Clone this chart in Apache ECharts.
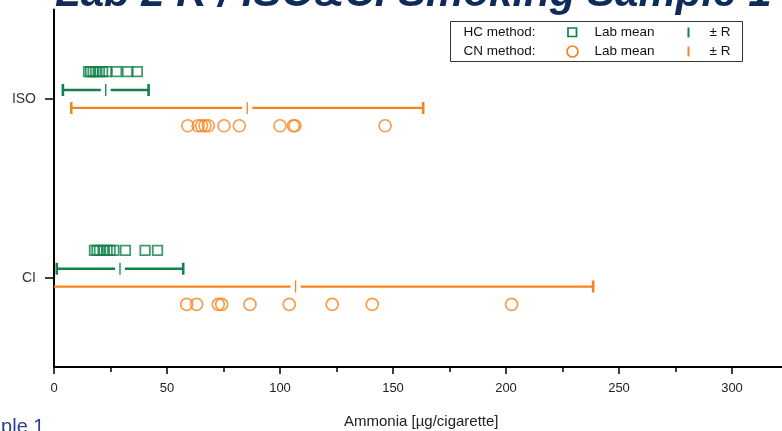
<!DOCTYPE html>
<html>
<head>
<meta charset="utf-8">
<script src="https://cdn.jsdelivr.net/npm/echarts@6/dist/echarts.min.js"></script>
<style>
html,body{margin:0;padding:0;background:#fff;}
#chart{width:782px;height:431px;}
</style>
</head>
<body>
<div id="chart"></div>
<script>
// ---- data ----
var categories = ['CI', 'ISO'];
var xTicks = [0, 50, 100, 150, 200, 250, 300];
// individual lab means, HC method (squares)
var hcISO = [15.3, 16.2, 17.3, 18.4, 20.1, 21.5, 23.2, 27.7, 32.5, 36.9];
var hcCI = [17.9, 19.0, 20.1, 21.7, 23.5, 24.8, 26.5, 31.6, 40.3, 45.8];
// individual lab means, CN method (circles)
var cnISO = [59.2, 63.8, 65.3, 66.8, 68.3, 75.2, 82.0, 100.0, 105.9, 106.6, 146.5];
var cnCI = [58.7, 63.1, 72.7, 74.2, 86.7, 104.1, 123.1, 140.8, 202.5];
// overall mean and R per category [CI, ISO]
var hcMean = [29.2, 22.9];
var hcR = [28.4, 19.4];
var cnMean = [106.9, 85.5];
var cnR = [132.1, 78.3];

var GREEN = '#12804a';
var ORANGE = '#f7841f';
var catPos = [1, 2];
var offSq = 0.153, offHcBar = 0.05, offCnBar = -0.05, offCir = -0.15;

function pts(vals, catIdx, off) {
  return vals.map(function (v) { return [v, catPos[catIdx] + off]; });
}
function bars(means, rs, off) {
  return means.map(function (m, i) { return [m - rs[i], m + rs[i], m, catPos[i] + off]; });
}

function renderErr(color) {
  return function (params, api) {
    var lo = api.coord([api.value(0), api.value(3)]);
    var hi = api.coord([api.value(1), api.value(3)]);
    var mn = api.coord([api.value(2), api.value(3)]);
    var y = lo[1];
    var gap = 5;
    var lw = 2.4;
    var cs = params.coordSys;
    var children = [
      {type: 'line', shape: {x1: lo[0], y1: y, x2: mn[0] - gap, y2: y}, style: {stroke: color, lineWidth: lw}},
      {type: 'line', shape: {x1: mn[0] + gap, y1: y, x2: hi[0], y2: y}, style: {stroke: color, lineWidth: lw}},
      {type: 'line', shape: {x1: lo[0] + 1, y1: y - 6, x2: lo[0] + 1, y2: y + 6}, style: {stroke: color, lineWidth: 2.6}},
      {type: 'line', shape: {x1: hi[0] - 1, y1: y - 6, x2: hi[0] - 1, y2: y + 6}, style: {stroke: color, lineWidth: 2.6}},
      {type: 'line', shape: {x1: mn[0], y1: y - 6, x2: mn[0], y2: y + 6}, style: {stroke: color, lineWidth: 1.3}}
    ];
    return {
      type: 'group',
      children: children,
      clipPath: {type: 'rect', shape: {x: cs.x, y: cs.y, width: cs.width, height: cs.height}}
    };
  };
}

var chart = echarts.init(document.getElementById('chart'));
var FONT = 'Liberation Sans';
chart.setOption({
  animation: false,
  backgroundColor: '#fff',
  textStyle: {fontFamily: FONT},
  grid: {left: 54, right: -6.5, top: 9.6, bottom: 64, containLabel: false, outerBoundsMode: 'none'},
  xAxis: {
    type: 'value', min: 0, max: 325, interval: 50,
    axisLine: {show: true, lineStyle: {color: '#000', width: 2}},
    axisTick: {show: true, length: 7, lineStyle: {color: '#000', width: 1.5}},
    minorTick: {show: true, splitNumber: 2, length: 5, lineStyle: {color: '#000', width: 1.5}},
    splitLine: {show: false},
    axisLabel: {
      color: '#222', fontSize: 13, margin: 15, fontFamily: FONT,
      formatter: function (v) { return xTicks.indexOf(v) >= 0 ? String(v) : ''; }
    },
    name: 'Ammonia [\u00b5g/cigarette]',
    nameLocation: 'middle', nameGap: 47,
    nameTextStyle: {color: '#222', fontSize: 15, fontFamily: FONT}
  },
  yAxis: [{
    type: 'category', data: categories,
    axisLine: {show: true, lineStyle: {color: '#000', width: 2}},
    axisTick: {show: true, alignWithLabel: true, length: 9, lineStyle: {color: '#000', width: 1.5}},
    axisLabel: {color: '#333', fontSize: 14, margin: 18, fontFamily: FONT},
    splitLine: {show: false}
  }, {
    type: 'value', min: 0.5, max: 2.5, show: false
  }],
  series: [
    {type: 'scatter', yAxisIndex: 1, symbol: 'rect', symbolSize: 9.5,
      itemStyle: {color: 'rgba(0,0,0,0)', borderColor: GREEN, borderWidth: 1.8},
      data: pts(hcISO, 1, offSq).concat(pts(hcCI, 0, offSq))},
    {type: 'scatter', yAxisIndex: 1, symbol: 'circle', symbolSize: 12,
      itemStyle: {color: 'rgba(0,0,0,0)', borderColor: ORANGE, borderWidth: 1.7},
      data: pts(cnISO, 1, offCir).concat(pts(cnCI, 0, offCir))},
    {type: 'custom', yAxisIndex: 1, renderItem: renderErr(GREEN), clip: true,
      encode: {x: [0, 1, 2], y: 3}, data: bars(hcMean, hcR, offHcBar)},
    {type: 'custom', yAxisIndex: 1, renderItem: renderErr(ORANGE), clip: true,
      encode: {x: [0, 1, 2], y: 3}, data: bars(cnMean, cnR, offCnBar)}
  ],
  graphic: [
    {type: 'text', left: 55, top: -27, z: 10,
      style: {text: 'Lab 2 R / ISO&CI Smoking Sample 1', fill: '#0f2b5b', font: 'italic bold 42px "Liberation Sans"'}},
    {type: 'text', left: -40, top: 417, z: 10,
      style: {text: 'Sample 1', fill: '#2b3f92', font: '20px "Liberation Sans"'}},
    {type: 'group', left: 450, top: 21, z: 20, children: [
      {type: 'rect', shape: {x: 0, y: 0, width: 292, height: 40}, style: {fill: '#fff', stroke: '#333', lineWidth: 1}},
      {type: 'text', x: 13, y: 11, style: {text: 'HC method:', fill: '#111', font: '13.5px "Liberation Sans"', verticalAlign: 'middle'}},
      {type: 'rect', shape: {x: 117.5, y: 6.5, width: 8.5, height: 8.5}, style: {fill: 'none', stroke: GREEN, lineWidth: 1.7}},
      {type: 'text', x: 144, y: 11, style: {text: 'Lab mean', fill: '#111', font: '13.5px "Liberation Sans"', verticalAlign: 'middle'}},
      {type: 'line', shape: {x1: 238, y1: 6, x2: 238, y2: 16}, style: {stroke: GREEN, lineWidth: 2}},
      {type: 'text', x: 259, y: 11, style: {text: '\u00b1 R', fill: '#111', font: '13.5px "Liberation Sans"', verticalAlign: 'middle'}},
      {type: 'text', x: 13, y: 30, style: {text: 'CN method:', fill: '#111', font: '13.5px "Liberation Sans"', verticalAlign: 'middle'}},
      {type: 'circle', shape: {cx: 122, cy: 30, r: 5.5}, style: {fill: 'none', stroke: ORANGE, lineWidth: 1.7}},
      {type: 'text', x: 144, y: 30, style: {text: 'Lab mean', fill: '#111', font: '13.5px "Liberation Sans"', verticalAlign: 'middle'}},
      {type: 'line', shape: {x1: 238, y1: 25, x2: 238, y2: 35}, style: {stroke: ORANGE, lineWidth: 2}},
      {type: 'text', x: 259, y: 30, style: {text: '\u00b1 R', fill: '#111', font: '13.5px "Liberation Sans"', verticalAlign: 'middle'}}
    ]}
  ]
});
</script>
</body>
</html>
